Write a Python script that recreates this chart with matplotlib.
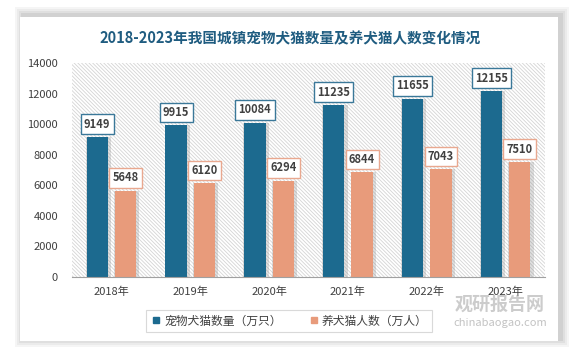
import matplotlib
matplotlib.use("Agg")
import matplotlib.pyplot as plt
from matplotlib.patches import Rectangle
from matplotlib.lines import Line2D
import numpy as np

plt.rcParams['font.family'] = ['Noto Sans CJK SC', 'DejaVu Sans']
plt.rcParams['hatch.linewidth'] = 0.6

title = "2018-2023年我国城镇宠物犬猫数量及养犬猫人数变化情况"
years = ["2018年", "2019年", "2020年", "2021年", "2022年", "2023年"]
pets = [9149, 9915, 10084, 11235, 11655, 12155]
owners = [5648, 6120, 6294, 6844, 7043, 7510]
series_names = ["宠物犬猫数量（万只）", "养犬猫人数（万人）"]
yticks = [0, 2000, 4000, 6000, 8000, 10000, 12000, 14000]

c_blue = "#1C6A8F"
c_orange = "#E89B7B"
c_blue_edge = "#3A7899"
c_orange_edge = "#E9A88F"

W, H = 575, 361
fig = plt.figure(figsize=(W/100, H/100), dpi=100)
fig.patch.set_facecolor("white")

# card with soft shadow
for i, a in enumerate([0.04, 0.04, 0.05, 0.06]):
    d = (4 - i) * 2
    fig.patches.append(Rectangle(((20 - d + 3)/W, 1 - (341 + d - 2)/H), (538 + 2*d)/W, (324 + 2*d)/H,
                                 transform=fig.transFigure, facecolor="#000000", alpha=a,
                                 edgecolor="none", zorder=0))
fig.patches.append(Rectangle((20/W, 1 - 341/H), 538/W, 324/H, transform=fig.transFigure,
                             facecolor="white", edgecolor="none", zorder=1))

fig.text(290/W, 1 - 38/H, title, ha="center", va="center", fontsize=10.5,
         fontweight="bold", color="#1F5C80", zorder=5)

ax = fig.add_axes([72/W, 1 - 277/H, 473/W, 214/H])
ax.set_zorder(3)
ax.set_facecolor("none")
ax.add_patch(Rectangle((0, 0), 1, 1, transform=ax.transAxes, facecolor="white",
                       edgecolor="#D4D4D4", hatch="\\" * 9, linewidth=0, zorder=0))

x = np.arange(len(years))
off = 0.18
bw = 0.27
for xs, vals, col in [(x - off, pets, c_blue), (x + off, owners, c_orange)]:
    ax.bar(xs + 0.015, vals, width=bw + 0.05, color="#7F7F7F", alpha=0.25, zorder=1, linewidth=0)
    ax.bar(xs, vals, width=bw, color=col, zorder=2, linewidth=0)

for xs, vals, ec in [(x - off, pets, c_blue_edge), (x + off, owners, c_orange_edge)]:
    for xi, v in zip(xs, vals):
        ax.text(xi, v + 850, f"{v}", ha="center", va="center", fontsize=8, fontweight="bold",
                color="#404040", zorder=4,
                bbox=dict(boxstyle="square,pad=0.3", facecolor="white", edgecolor=ec, linewidth=1))

ax.set_xlim(-0.5, len(years) - 0.5)
ax.set_ylim(0, 14000)
ax.set_yticks(yticks)
ax.set_yticklabels([str(t) for t in yticks], fontsize=8, color="#404040")
ax.set_xticks(x)
ax.set_xticklabels(years, fontsize=8, color="#404040")
ax.tick_params(length=0, pad=10, axis="y")
ax.tick_params(length=0, pad=7, axis="x")
for s in ["top", "right", "left"]:
    ax.spines[s].set_visible(False)
ax.spines["bottom"].set_color("#A0A0A0")
ax.spines["bottom"].set_linewidth(0.8)

# legend
handles = [Line2D([], [], marker="s", linestyle="none", markersize=5, color=c_blue),
           Line2D([], [], marker="s", linestyle="none", markersize=5, color=c_orange)]
leg = fig.legend(handles, series_names, loc="center", bbox_to_anchor=(289/W, 1 - 321/H),
                 ncol=2, fontsize=8.5, frameon=True, fancybox=False, edgecolor="#D0D0D0",
                 handletextpad=0.2, columnspacing=2.2, borderpad=0.35, handlelength=1.0,
                 labelcolor="#404040")
leg.get_frame().set_linewidth(0.8)
leg.set_zorder(6)

# watermark
fig.text(500/W, 1 - 304/H, "观研报告网", ha="center", va="center", fontsize=13,
         fontweight="bold", color="#9A9A9A", alpha=0.5, zorder=7)
fig.text(500/W, 1 - 323/H, "chinabaogao.com", ha="center", va="center", fontsize=8,
         color="#9A9A9A", alpha=0.6, zorder=7)

fig.savefig("out.png", dpi=100)
